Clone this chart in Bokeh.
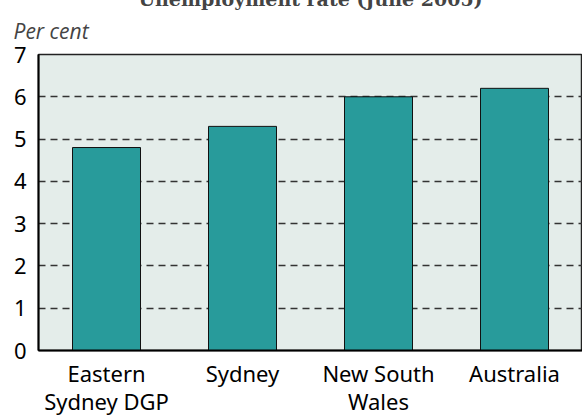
from bokeh.plotting import figure
from bokeh.models import Range1d, FixedTicker, Title, LinearAxis
from bokeh.embed import file_html
from bokeh.resources import INLINE

categories = ["Eastern Sydney DGP", "Sydney", "New South Wales", "Australia"]
label_line1 = ["Eastern", "Sydney", "New South", "Australia"]
label_line2 = ["Sydney DGP", "", "Wales", ""]
rates = [4.8, 5.3, 6.0, 6.2]
y_ticks = [0, 1, 2, 3, 4, 5, 6, 7]
title_text = "Unemployment rate (June 2005)"
unit_text = "Per cent"

positions = list(range(len(categories)))

W = 582
TOP, FRAME_H, BOTTOM = 86, 296, 77
H = TOP + FRAME_H + BOTTOM
p = figure(width=W, height=H, output_backend="svg", toolbar_location=None,
           x_range=Range1d(-0.5, len(categories) - 0.5),
           y_range=Range1d(0, 7),
           x_axis_type=None,
           min_border_left=38, min_border_right=0, min_border_top=TOP,
           min_border_bottom=BOTTOM)
p.styles = {"margin-top": "-32px", "margin-bottom": "-12px"}

p.vbar(x=positions, top=rates, width=0.5, fill_color="#289B9B",
       line_color="#111111", line_width=1)

p.background_fill_color = "#E4EDEA"
p.border_fill_color = "white"
p.outline_line_color = "#222222"
p.outline_line_width = 1.5

p.xgrid.grid_line_color = None
p.ygrid.ticker = FixedTicker(ticks=y_ticks[1:-1])
p.ygrid.grid_line_color = "#333333"
p.ygrid.grid_line_dash = "7 5"
p.ygrid.grid_line_width = 1.5

p.yaxis.ticker = FixedTicker(ticks=y_ticks)

ax1 = LinearAxis(ticker=FixedTicker(ticks=positions),
                 major_label_overrides={i: s for i, s in zip(positions, label_line1)})
ax2 = LinearAxis(ticker=FixedTicker(ticks=positions),
                 major_label_overrides={i: s for i, s in zip(positions, label_line2)})
p.add_layout(ax1, "below")
p.add_layout(ax2, "below")

for ax in (ax1, p.yaxis[0], ax2):
    ax.axis_line_color = "black"
    ax.axis_line_width = 2
    ax.major_tick_line_color = None
    ax.minor_tick_line_color = None
    ax.major_tick_in = 0
    ax.major_tick_out = 0
    ax.minor_tick_in = 0
    ax.minor_tick_out = 0
    ax.major_label_text_color = "black"
    ax.major_label_text_font = "Noto Sans"
    ax.major_label_text_font_size = "22px"

ax2.axis_line_color = None
p.yaxis.major_label_standoff = 12
ax1.major_label_standoff = 7
ax2.major_label_standoff = -5

p.add_layout(Title(text=unit_text, text_font="Open Sans", text_font_style="italic",
                   text_font_size="21px", align="left", offset=-25, standoff=20), "above")
p.add_layout(Title(text=title_text, text_font="DejaVu Serif", text_font_style="bold",
                   text_font_size="19px", align="center", offset=-5, standoff=-10), "above")

open("out.html", "w").write(file_html(p, INLINE))
